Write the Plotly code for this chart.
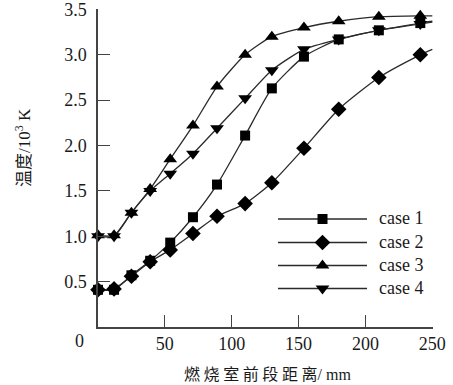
import plotly.graph_objects as go

# ---- data ----
distance = [0, 12, 25, 39, 54, 71, 89, 110, 130, 154, 180, 210, 241]
case1 = [0.41, 0.41, 0.57, 0.73, 0.93, 1.21, 1.57, 2.11, 2.63, 2.98, 3.17, 3.27, 3.35]
case2 = [0.41, 0.42, 0.56, 0.72, 0.85, 1.03, 1.22, 1.36, 1.59, 1.97, 2.40, 2.75, 3.00]
case3 = [1.01, 1.01, 1.26, 1.52, 1.85, 2.22, 2.65, 3.00, 3.20, 3.30, 3.37, 3.42, 3.43]
case4 = [1.00, 1.00, 1.26, 1.50, 1.69, 1.91, 2.19, 2.52, 2.83, 3.06, 3.17, 3.27, 3.34]
# curve continuation at the right edge of the axis (no marker)
end_x = 250
end_vals = {"case 1": 3.37, "case 2": 3.06, "case 3": 3.43, "case 4": 3.36}

series_names = ["case 1", "case 2", "case 3", "case 4"]
series_vals = [case1, case2, case3, case4]
symbols = ["square", "diamond", "triangle-up", "triangle-down"]
marker_sizes = [10, 12, 12, 12]

x_ticks = [50, 100, 150, 200, 250]
y_ticks = [0.5, 1.0, 1.5, 2.0, 2.5, 3.0, 3.5]
y_ticklabels = ["0.5", "1.0", "1.5", "2.0", "2.5", "3.0", "3.5"]

SERIF = "Liberation Serif"
INK = "#1a1a1a"
LINE = "#2a2a2a"

W, H = 453, 385
ml, mr, mt, mb = 98, 20, 9, 58
pw, ph = W - ml - mr, H - mt - mb


def px2paper(px, py):
    return (px - ml) / pw, 1 - (py - mt) / ph


fig = go.Figure()
for name, vals, sym, ms in zip(series_names, series_vals, symbols, marker_sizes):
    fig.add_trace(go.Scatter(
        x=distance + [end_x], y=vals + [end_vals[name]], mode="lines",
        line=dict(color=LINE, width=1.3, shape="spline", smoothing=0.6),
        showlegend=False, cliponaxis=False, hoverinfo="skip"))
    fig.add_trace(go.Scatter(
        x=distance, y=vals, mode="markers", name=name,
        marker=dict(symbol=sym, size=ms, color="black", line=dict(width=0)),
        showlegend=False, cliponaxis=False))

# manual legend (long sample lines as in the reference), drawn on an overlay axis in pixels
fig.update_layout(
    xaxis2=dict(domain=[0, 1], range=[ml, W - mr], overlaying="x", visible=False,
                fixedrange=True, automargin=False),
    yaxis2=dict(domain=[0, 1], range=[H - mb, mt], overlaying="y", visible=False,
                fixedrange=True, automargin=False),
)
leg_x0, leg_x1 = 278, 367
leg_rows = [219, 242.5, 265.5, 288.5]
for name, sym, ms, py in zip(series_names, symbols, marker_sizes, leg_rows):
    fig.add_trace(go.Scatter(
        x=[leg_x0, leg_x1], y=[py, py], xaxis="x2", yaxis="y2", mode="lines",
        line=dict(color=LINE, width=1.3), showlegend=False, hoverinfo="skip", cliponaxis=False))
    fig.add_trace(go.Scatter(
        x=[(leg_x0 + leg_x1) / 2], y=[py], xaxis="x2", yaxis="y2", mode="markers",
        marker=dict(symbol=sym, size=ms, color="black", line=dict(width=0)),
        showlegend=False, hoverinfo="skip", cliponaxis=False))
    xt, yt = px2paper(377, py - 1)
    fig.add_annotation(xref="paper", yref="paper", x=xt, y=yt, text=name, showarrow=False,
                       font=dict(family=SERIF, size=18, color=INK),
                       xanchor="left", yanchor="middle")

# origin label
xo, yo = px2paper(79, 341)
fig.add_annotation(xref="paper", yref="paper", x=xo, y=yo, text="0", showarrow=False,
                   font=dict(family=SERIF, size=18, color=INK), xanchor="center", yanchor="middle")

# axis titles
xa, ya = px2paper(267, 373)
fig.add_annotation(xref="paper", yref="paper", x=xa, y=ya,
                   text="<span style='font-family:Noto Sans CJK SC'>燃 烧 室 前 段 距 离</span>/ mm",
                   showarrow=False, font=dict(family=SERIF, size=16, color=INK),
                   xanchor="center", yanchor="middle")
xb, yb = px2paper(22, 148)
fig.add_annotation(xref="paper", yref="paper", x=xb, y=yb,
                   text="<span style='font-family:Noto Sans CJK SC'>温度</span>/10<sup>3</sup> K",
                   showarrow=False, textangle=-90, font=dict(family=SERIF, size=17, color=INK),
                   xanchor="center", yanchor="middle")

fig.update_layout(
    width=W, height=H, margin=dict(l=ml, r=mr, t=mt, b=mb, autoexpand=False),
    paper_bgcolor="white", plot_bgcolor="white", showlegend=False,
    font=dict(family=SERIF, size=18, color=INK),
)
fig.layout.xaxis.update(range=[0, 250.5], tickvals=x_ticks, ticktext=[str(v) for v in x_ticks],
                        ticks="inside", ticklen=12, tickwidth=1.3, tickcolor="#444",
                        showline=True, linecolor="#444", linewidth=1.5, showgrid=False,
                        zeroline=False, tickfont=dict(family=SERIF, size=18, color=INK),
                        ticklabeloverflow="allow", automargin=False)
fig.layout.yaxis.update(range=[0, 3.505], tickvals=y_ticks, ticktext=y_ticklabels,
                        ticks="inside", ticklen=12, tickwidth=1.3, tickcolor="#444",
                        showline=True, linecolor="#444", linewidth=1.5, showgrid=False,
                        zeroline=False, tickfont=dict(family=SERIF, size=18, color=INK),
                        ticklabelstandoff=6, ticklabeloverflow="allow", automargin=False)

fig.write_html("out.html")
